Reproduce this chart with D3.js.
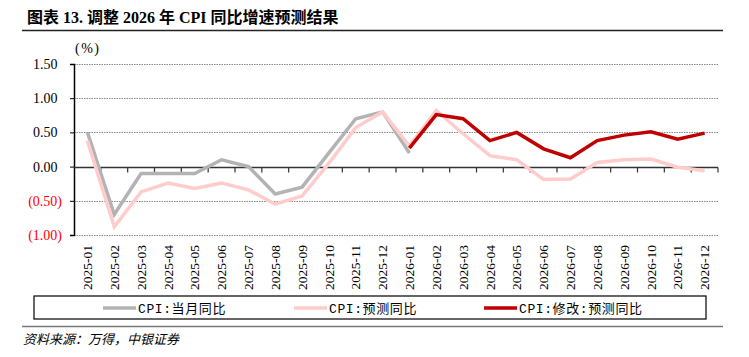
<!DOCTYPE html>
<html><head><meta charset="utf-8">
<script src="https://cdn.jsdelivr.net/npm/d3@7"></script>
<style>body{margin:0;background:#fff}svg{display:block}</style>
</head><body>
<svg id="c" width="749" height="357"></svg>
<script>
const categories = ["2025-01","2025-02","2025-03","2025-04","2025-05","2025-06","2025-07","2025-08","2025-09","2025-10","2025-11","2025-12","2026-01","2026-02","2026-03","2026-04","2026-05","2026-06","2026-07","2026-08","2026-09","2026-10","2026-11","2026-12"];
const actual = [0.5,-0.7,-0.1,-0.1,-0.1,0.1,0.0,-0.4,-0.3,0.2,0.7,0.8,0.2,null,null,null,null,null,null,null,null,null,null,null];
const forecast = [0.38,-0.88,-0.37,-0.24,-0.32,-0.24,-0.34,-0.55,-0.43,0.05,0.57,0.80,0.30,0.82,0.48,0.16,0.10,-0.19,-0.18,0.06,0.10,0.11,-0.01,-0.06];
const revised = [null,null,null,null,null,null,null,null,null,null,null,null,0.27,0.76,0.70,0.38,0.50,0.26,0.13,0.38,0.46,0.51,0.40,0.49];
const yTicks = [1.5,1.0,0.5,0.0,-0.5,-1.0];
const seriesNames = ["CPI:当月同比","CPI:预测同比","CPI:修改:预测同比"];
const colors = ["#b3b3b3","#ffcccc","#c00000"];

const SERIF = '"Liberation Serif", "Times New Roman", serif';
const svg = d3.select("#c");
const L=74,R=718,T=64,B=235;
const x = d3.scaleBand().domain(categories).range([L,R]);
const y = d3.scaleLinear().domain([-1,1.5]).range([B,T]);

// title
svg.append("text").attr("x",27).attr("y",23)
  .style("font-family",'"Liberation Serif","Noto Sans CJK SC",serif').style("font-weight","bold").style("font-size","16px")
  .attr("fill","#000").text("图表 13. 调整 2026 年 CPI 同比增速预测结果");
svg.append("line").attr("x1",22).attr("x2",723).attr("y1",30.5).attr("y2",30.5).attr("stroke","#222").attr("stroke-width",1.5);

// gridlines
svg.append("g").selectAll("line").data(yTicks.filter(d=>d!==0)).join("line")
  .attr("x1",L).attr("x2",R).attr("y1",d=>Math.round(y(d))+0.5).attr("y2",d=>Math.round(y(d))+0.5)
  .attr("stroke","#888").attr("stroke-dasharray","1.5,1").attr("stroke-width",1);

// y axis
const ya = svg.append("g").attr("transform",`translate(${L},0)`).call(d3.axisLeft(y).tickValues(yTicks).tickSize(4).tickFormat(d=>d<0?`(${d3.format(".2f")(-d)})`:d3.format(".2f")(d)));
ya.attr("font-family",SERIF).attr("font-size",14);
ya.select(".domain").attr("stroke","#000").attr("stroke-width",1.5);
ya.selectAll(".tick line").attr("stroke","#000");
ya.selectAll("text").style("font-family",SERIF).style("font-size","14px").attr("fill",d=>d<0?"#ff0000":"#000").attr("dx",d=>d<0?-5:-9.5);

svg.append("text").attr("x",75).attr("y",53).style("font-family",SERIF).style("font-size","14px").style("letter-spacing","1.5px").attr("fill","#000").text("(%)");

// zero axis with ticks
const y0 = Math.round(y(0))+0.5;
svg.append("line").attr("x1",L).attr("x2",R).attr("y1",y0).attr("y2",y0).attr("stroke","#333").attr("stroke-width",1.5);
const bounds = categories.map(c=>x(c)+x.bandwidth());
svg.append("g").selectAll("line").data(bounds).join("line")
  .attr("x1",d=>d).attr("x2",d=>d).attr("y1",y0).attr("y2",y0+5).attr("stroke","#333").attr("stroke-width",1.2);

// x labels
const xa = svg.append("g").attr("transform",`translate(0,${B})`).call(d3.axisBottom(x).tickSize(0));
xa.attr("font-family",SERIF).attr("font-size",13.5);
xa.select(".domain").remove();
xa.selectAll("text").style("font-family",SERIF).style("font-size","13.5px").attr("fill","#000")
  .attr("transform","rotate(-90)").attr("text-anchor","end").attr("dx","-10").attr("dy","0.35em").attr("x",0).attr("y",0);

// lines
const line = d3.line().defined(d=>d.v!==null).x(d=>x(d.c)+x.bandwidth()/2).y(d=>y(d.v));
[actual,forecast,revised].forEach((s,i)=>{
  svg.append("path").datum(categories.map((c,j)=>({c,v:s[j]})))
    .attr("d",line).attr("fill","none").attr("stroke",colors[i]).attr("stroke-width",3.5).attr("stroke-linejoin","miter");
});

// legend
svg.append("rect").attr("x",34).attr("y",296).attr("width",672).attr("height",23).attr("fill","none").attr("stroke","#000").attr("stroke-width",1.2);
const lx=[103,294,484];
seriesNames.forEach((n,i)=>{
  svg.append("line").attr("x1",lx[i]).attr("x2",lx[i]+33).attr("y1",308).attr("y2",308).attr("stroke",colors[i]).attr("stroke-width",3.5);
  svg.append("text").attr("x",lx[i]+35).attr("y",312.5).style("font-family",'"Liberation Mono","Noto Sans CJK SC",monospace').style("font-size","13px").style("letter-spacing","0.6px").attr("fill","#000").text(n);
});

svg.append("line").attr("x1",22).attr("x2",723).attr("y1",326.5).attr("y2",326.5).attr("stroke","#777").attr("stroke-width",1.5);
svg.append("text").attr("x",23).attr("y",344).style("font-family","Noto Sans CJK SC").style("font-style","italic").style("font-size","13px").attr("fill","#000").text("资料来源：万得，中银证券");
</script>
</body></html>
